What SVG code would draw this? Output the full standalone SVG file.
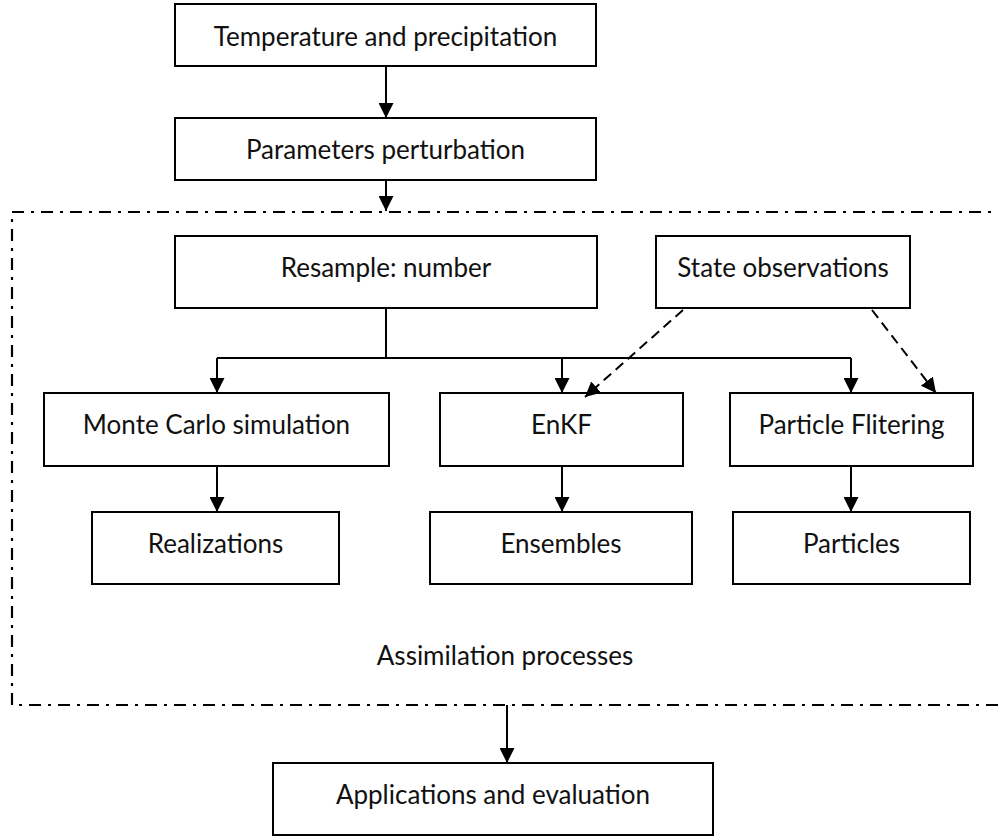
<svg xmlns="http://www.w3.org/2000/svg" width="998" height="840" viewBox="0 0 998 840">
<defs>
<marker id="ah" viewBox="0 0 15 15" refX="15" refY="7.5" markerWidth="15" markerHeight="15" markerUnits="userSpaceOnUse" orient="auto">
<path d="M0,0 L15,7.5 L0,15 Z" fill="#000"/>
</marker>
</defs>
<style>
.box{fill:#fff;stroke:#000;stroke-width:2}
.t{font-family:Lato,"Open Sans",sans-serif;font-size:26px;fill:#111;text-anchor:middle}
.c{fill:none;stroke:#000;stroke-width:2}
.d{fill:none;stroke:#000;stroke-width:2;stroke-dasharray:10 6}
.b{fill:none;stroke:#000;stroke-width:2.2;stroke-dasharray:12 7 3 7}
</style>
<rect width="998" height="840" fill="#fff"/>
<g id="assimilation-region">
<path class="b" d="M1010,212 H12 V705 H1010"/>
<text class="t" x="505" y="665">Assimilation processes</text>
</g>
<g id="temperature"><rect class="box" x="175" y="4" width="421" height="62"/><text class="t" x="385.5" y="46">Temperature and precipitation</text></g>
<g id="parameters"><rect class="box" x="175" y="118" width="421" height="62"/><text class="t" x="385.5" y="159">Parameters perturbation</text></g>
<g id="resample"><rect class="box" x="175" y="236" width="422" height="72"/><text class="t" x="386" y="277">Resample: number</text></g>
<g id="state-observations"><rect class="box" x="656" y="236" width="254" height="72"/><text class="t" x="783" y="277">State observations</text></g>
<g id="monte-carlo"><rect class="box" x="44" y="393" width="345" height="73"/><text class="t" x="216.5" y="434">Monte Carlo simulation</text></g>
<g id="enkf"><rect class="box" x="440" y="393" width="243" height="73"/><text class="t" x="561.5" y="434">EnKF</text></g>
<g id="particle-filtering"><rect class="box" x="730" y="393" width="243" height="73"/><text class="t" x="851.5" y="434">Particle Flitering</text></g>
<g id="realizations"><rect class="box" x="92" y="512" width="247" height="72"/><text class="t" x="215.5" y="553">Realizations</text></g>
<g id="ensembles"><rect class="box" x="430" y="512" width="262" height="72"/><text class="t" x="561" y="553">Ensembles</text></g>
<g id="particles"><rect class="box" x="733" y="512" width="237" height="72"/><text class="t" x="851.5" y="553">Particles</text></g>
<g id="applications"><rect class="box" x="273" y="763" width="440" height="72"/><text class="t" x="493" y="804">Applications and evaluation</text></g>
<g id="connectors">
<path class="c" d="M386,66 V118" marker-end="url(#ah)"/>
<path class="c" d="M386,180 V211" marker-end="url(#ah)"/>
<path class="c" d="M386,308 V358 M217,358 H851"/>
<path class="c" d="M217,358 V393" marker-end="url(#ah)"/>
<path class="c" d="M562,358 V393" marker-end="url(#ah)"/>
<path class="c" d="M851,358 V393" marker-end="url(#ah)"/>
<path class="d" d="M683,310 L585,397" marker-end="url(#ah)"/>
<path class="d" d="M872,310 L936,393" marker-end="url(#ah)"/>
<path class="c" d="M217,466 V512" marker-end="url(#ah)"/>
<path class="c" d="M562,466 V512" marker-end="url(#ah)"/>
<path class="c" d="M851,466 V512" marker-end="url(#ah)"/>
<path class="c" d="M507,705 V763" marker-end="url(#ah)"/>
</g>
</svg>
